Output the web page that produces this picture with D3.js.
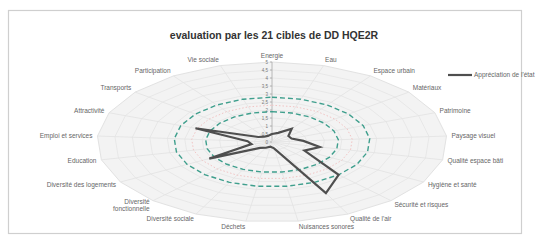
<!DOCTYPE html>
<html>
<head>
<meta charset="utf-8">
<script src="https://cdn.jsdelivr.net/npm/d3@7"></script>
<style>
  body { margin: 0; background: #fff; }
  svg { font-family: "Liberation Sans", Arial, sans-serif; }
</style>
</head>
<body>
<div id="chart"></div>
<script>
// 21 cibles HQE2R, clockwise from the top
const cibles = [
  "Energie", "Eau", "Espace urbain", "Matériaux", "Patrimoine", "Paysage visuel",
  "Qualité espace bâti", "Hygiène et santé", "Sécurité et risques", "Qualité de l'air",
  "Nuisances sonores", "Déchets", "Diversité sociale", "Diversité|fonctionnelle",
  "Diversité des logements", "Education", "Emploi et services", "Attractivité",
  "Transports", "Participation", "Vie sociale"
];

// dark solid series
const evaluation = [0.5, 0.6, 1.0, 0.6, 0.6, 0.9, 1.4, 1.07, 2.8, 3.55, 0.4,
                    0.3, 0.4, 0.5, 2.07, 0.6, 0.7, 2.35, 0.5, 0.4, 0.4];
// reference rings (dashed teal) and pink dotted ring
const seuilHaut = [2.8, 2.8, 2.8, 2.8, 2.8, 2.8, 2.8, 2.8, 2.8, 2.8, 2.8,
                   2.8, 2.8, 2.8, 2.8, 2.8, 2.8, 2.8, 2.8, 2.8, 2.8];
const seuilBas = [1.9, 1.9, 1.9, 1.9, 1.9, 1.9, 1.9, 1.9, 1.9, 1.9, 1.9,
                  1.9, 1.9, 1.9, 1.9, 1.9, 1.9, 1.9, 1.9, 1.9, 1.9];
const seuilMoyen = [2.3, 2.3, 2.3, 2.3, 2.3, 2.3, 2.3, 2.3, 2.3, 2.3, 2.3,
                    2.3, 2.3, 2.3, 2.3, 2.3, 2.3, 2.3, 2.3, 2.3, 2.3];
const ticks = [0, 0.5, 1, 1.5, 2, 2.5, 3, 3.5, 4, 4.5, 5];

const width = 559, height = 240;
const cx = 272, cy = 142, rx = 175, ry = 80;

const svg = d3.select("#chart").append("svg")
  .attr("width", width).attr("height", height);

// chart frame
svg.append("rect")
  .attr("x", 8.5).attr("y", 10.5).attr("width", 513).attr("height", 223)
  .attr("fill", "#fff").attr("stroke", "#cfcfcf").attr("stroke-width", 1.2);

const r = d3.scaleLinear().domain([0, 5]).range([0, 1]);
const angle = d3.scalePoint().domain(d3.range(cibles.length))
  .range([0, 2 * Math.PI * (cibles.length - 1) / cibles.length]);

const px = (i, v) => cx + rx * r(v) * Math.sin(angle(i));
const py = (i, v) => cy - ry * r(v) * Math.cos(angle(i));

const ring = d3.line()
  .x(d => px(d.i, d.v)).y(d => py(d.i, d.v))
  .curve(d3.curveLinearClosed);

const asRing = vals => vals.map((v, i) => ({ i, v }));

// plot area background + gridlines
const grid = svg.append("g");
grid.append("path")
  .attr("d", ring(asRing(cibles.map(() => 5))))
  .attr("fill", "#f3f3f3").attr("stroke", "#e2e2e2");
ticks.slice(1, -1).forEach(t => {
  grid.append("path")
    .attr("d", ring(asRing(cibles.map(() => t))))
    .attr("fill", "none").attr("stroke", "#e4e4e4").attr("stroke-width", 0.8);
});
grid.selectAll("line.spoke")
  .data(cibles).enter().append("line")
  .attr("class", "spoke")
  .attr("x1", cx).attr("y1", cy)
  .attr("x2", (d, i) => px(i, 5)).attr("y2", (d, i) => py(i, 5))
  .attr("stroke", (d, i) => i === 0 ? "#a8a8a8" : "#e2e2e2")
  .attr("stroke-width", 0.8);

// value axis ticks on the first spoke
const axis = svg.append("g");
axis.selectAll("line")
  .data(ticks).enter().append("line")
  .attr("x1", cx - 2).attr("x2", cx)
  .attr("y1", d => py(0, d)).attr("y2", d => py(0, d))
  .attr("stroke", "#a8a8a8").attr("stroke-width", 0.8);
axis.selectAll("text")
  .data(ticks).enter().append("text")
  .attr("x", cx - 4).attr("y", d => py(0, d) + 1.6)
  .attr("text-anchor", "end")
  .attr("font-size", 4.5).attr("fill", "#777")
  .text(d => String(d).replace(".", ","));

// reference rings
svg.append("path")
  .attr("d", ring(asRing(seuilMoyen)))
  .attr("fill", "none").attr("stroke", "#f2c4c4")
  .attr("stroke-width", 1).attr("stroke-dasharray", "1.5,2");
[seuilHaut, seuilBas].forEach(s => {
  svg.append("path")
    .attr("d", ring(asRing(s)))
    .attr("fill", "none").attr("stroke", "#3f9f8d")
    .attr("stroke-width", 1.4).attr("stroke-dasharray", "5,3");
});

// evaluation series
svg.append("path")
  .attr("d", ring(asRing(evaluation)))
  .attr("fill", "none").attr("stroke", "#4f4f4f")
  .attr("stroke-width", 2.2).attr("stroke-linejoin", "miter");

// category labels
const labels = svg.append("g")
  .attr("font-size", 6.5).attr("fill", "#666");
cibles.forEach((c, i) => {
  const a = angle(i);
  const s = Math.sin(a), co = Math.cos(a);
  const x = px(i, 5) + 5 * s;
  const y = py(i, 5) - 6 * co + 2;
  const anchor = Math.abs(s) < 0.05 ? "middle" : (s > 0 ? "start" : "end");
  const lines = c.split("|");
  const t = labels.append("text")
    .attr("x", x).attr("y", y - (lines.length - 1) * 3.5)
    .attr("text-anchor", anchor);
  lines.forEach((l, k) => {
    t.append("tspan").attr("x", x).attr("dy", k === 0 ? 0 : 7).text(l);
  });
});

// title
svg.append("text")
  .attr("x", 274).attr("y", 39)
  .attr("text-anchor", "middle")
  .attr("font-size", 10.5).attr("font-weight", "bold").attr("fill", "#333")
  .text("evaluation par les 21 cibles de DD HQE2R");

// legend
const legend = svg.append("g").attr("transform", "translate(448,75)");
legend.append("line")
  .attr("x1", 0).attr("x2", 24).attr("y1", 0).attr("y2", 0)
  .attr("stroke", "#4f4f4f").attr("stroke-width", 2.2);
legend.append("text")
  .attr("x", 26).attr("y", 2.2)
  .attr("font-size", 6.5).attr("fill", "#666")
  .text("Appréciation de l'état");
</script>
</body>
</html>
